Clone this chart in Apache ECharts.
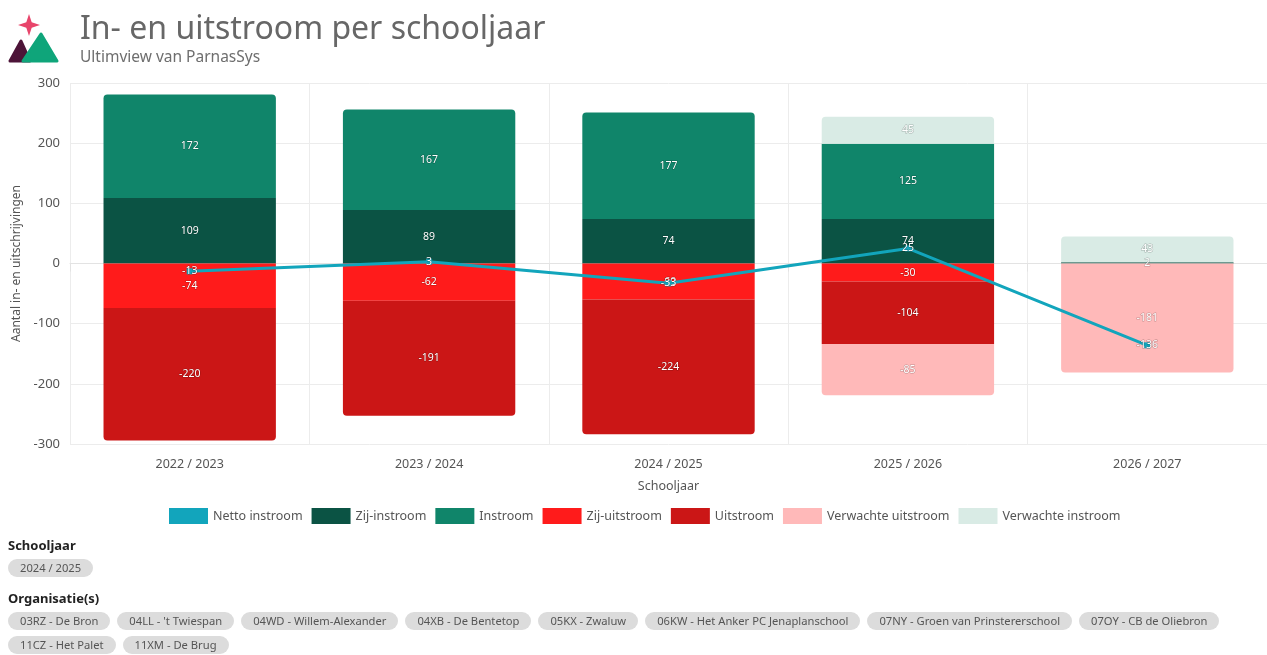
<!DOCTYPE html>
<html>
<head>
<meta charset="utf-8">
<script src="https://cdn.jsdelivr.net/npm/echarts@6/dist/echarts.min.js"></script>
<style>
  html, body { margin: 0; padding: 0; background: #fff; overflow: hidden; }
  body { width: 1267px; height: 655px; position: relative; font-family: "Noto Sans", "Open Sans", sans-serif; }
  #chart { position: absolute; left: 0; top: 0; width: 1267px; height: 655px; }
  .flabel { position: absolute; left: 8px; font-size: 13px; font-weight: bold; color: #222; }
  .pills { position: absolute; left: 8px; display: flex; flex-wrap: wrap; column-gap: 7px; row-gap: 6px; width: 1240px; }
  .pill { height: 18px; line-height: 18px; border-radius: 9px; background: #dcdcdc; color: #555; font-size: 11.2px; padding: 0 12px; white-space: nowrap; }
</style>
</head>
<body>
<div id="chart"></div>
<div class="flabel" style="top:536px">Schooljaar</div>
<div class="pills" id="yearPills" style="top:559px"></div>
<div class="flabel" style="top:589px">Organisatie(s)</div>
<div class="pills" id="orgPills" style="top:612px"></div>
<script>
const categories = ['2022 / 2023', '2023 / 2024', '2024 / 2025', '2025 / 2026', '2026 / 2027'];
const netto = [-13, 3, -33, 25, -136];
const zijInstroom = [109, 89, 74, 74, 2];
const instroom = [172, 167, 177, 125, null];
const verwachteInstroom = [null, null, null, 45, 43];
const zijUitstroom = [-74, -62, -60, -30, null];
const uitstroom = [-220, -191, -224, -104, null];
const verwachteUitstroom = [null, null, null, -85, -181];
const yTicks = [-300, -200, -100, 0, 100, 200, 300];
const yearFilter = ['2024 / 2025'];
const organisaties = ['03RZ - De Bron', "04LL - 't Twiespan", '04WD - Willem-Alexander', '04XB - De Bentetop', '05KX - Zwaluw', '06KW - Het Anker PC Jenaplanschool', '07NY - Groen van Prinstererschool', '07OY - CB de Oliebron', '11CZ - Het Palet', '11XM - De Brug'];

yearFilter.forEach(t => { const d = document.createElement('div'); d.className = 'pill'; d.textContent = t; document.getElementById('yearPills').appendChild(d); });
organisaties.forEach(t => { const d = document.createElement('div'); d.className = 'pill'; d.textContent = t; document.getElementById('orgPills').appendChild(d); });

const FONT = '"Noto Sans", "Open Sans", sans-serif';
const colors = {
  netto: '#12a5bc', zijIn: '#0b5344', inst: '#10856a', verwIn: '#d9ebe5',
  zijUit: '#ff1b1b', uit: '#cb1616', verwUit: '#ffb9b9'
};

function withRadius(arrs, positive) {
  const res = arrs.map(() => []);
  for (let i = 0; i < categories.length; i++) {
    let last = -1;
    for (let s = 0; s < arrs.length; s++) if (arrs[s][i] != null && arrs[s][i] !== 0) last = s;
    for (let s = 0; s < arrs.length; s++) {
      const v = arrs[s][i];
      if (v == null) { res[s].push(null); continue; }
      res[s].push({ value: v, itemStyle: { borderRadius: s === last ? (positive ? [4, 4, 0, 0] : [0, 0, 4, 4]) : 0 } });
    }
  }
  return res;
}
const pos = withRadius([zijInstroom, instroom, verwachteInstroom], true);
const neg = withRadius([zijUitstroom, uitstroom, verwachteUitstroom], false);

const barLabel = {
  show: true, position: 'inside', color: '#fff', fontSize: 10.5, fontFamily: FONT,
  textBorderColor: 'rgba(0,0,0,0.25)', textBorderWidth: 1
};
function bar(name, data, color) {
  return { name, type: 'bar', stack: 'total', data, barWidth: '72%', itemStyle: { color }, label: barLabel, z: 2 };
}

const chart = echarts.init(document.getElementById('chart'), null, { renderer: 'canvas' });
chart.setOption({
  animation: false,
  textStyle: { fontFamily: FONT },
  title: {
    left: 75, top: 9, itemGap: 4,
    text: 'In- en uitstroom per schooljaar',
    subtext: 'Ultimview van ParnasSys',
    textStyle: { fontSize: 32, fontWeight: 'normal', color: '#676767', fontFamily: FONT },
    subtextStyle: { fontSize: 15.5, color: '#6e6e6e', fontFamily: FONT }
  },
  graphic: [
    { type: 'polygon', shape: { points: [[29, 14], [31.7, 22.3], [40, 25], [31.7, 27.7], [29, 36], [26.3, 27.7], [18, 25], [26.3, 22.3]] }, style: { fill: '#e8456b' } },
    { type: 'polygon', shape: { points: [[10, 61], [21, 41], [30, 61]] }, style: { fill: '#4d1438', stroke: '#4d1438', lineWidth: 3, lineJoin: 'round' } },
    { type: 'polygon', shape: { points: [[23, 61], [41, 34], [57, 61]] }, style: { fill: '#0fa57a', stroke: '#0fa57a', lineWidth: 3, lineJoin: 'round' } }
  ],
  legend: {
    top: 503, left: 164, icon: 'rect', itemWidth: 39, itemHeight: 16, itemGap: 9,
    textStyle: { fontSize: 12.5, color: '#555', fontFamily: FONT },
    data: ['Netto instroom', 'Zij-instroom', 'Instroom', 'Zij-uitstroom', 'Uitstroom', 'Verwachte uitstroom', 'Verwachte instroom']
  },
  grid: { left: 70, right: -10, top: 83, bottom: 211, containLabel: false },
  xAxis: {
    type: 'category', data: categories,
    name: 'Schooljaar', nameLocation: 'middle', nameGap: 36,
    nameTextStyle: { fontSize: 12.5, color: '#555' },
    axisLine: { lineStyle: { color: '#e3e3e3' } },
    axisTick: { show: true, length: 8, lineStyle: { color: '#e3e3e3' } },
    splitLine: { show: true, lineStyle: { color: '#ececec' } },
    axisLabel: { fontSize: 12.5, color: '#555', margin: 14 }
  },
  yAxis: {
    type: 'value', min: yTicks[0], max: yTicks[yTicks.length - 1], interval: 100,
    name: 'Aantal in- en uitschrijvingen', nameLocation: 'middle', nameGap: 44, nameRotate: 90,
    nameTextStyle: { fontSize: 12, color: '#555' },
    axisLine: { show: false }, axisTick: { show: false },
    splitLine: { lineStyle: { color: '#ececec' } },
    axisLabel: { fontSize: 13, color: '#555', margin: 10 }
  },
  series: [
    {
      name: 'Netto instroom', type: 'line', data: netto, z: 10,
      itemStyle: { color: colors.netto }, lineStyle: { width: 3, color: colors.netto },
      symbol: 'rect', symbolSize: 6, showSymbol: true,
      label: { show: true, position: 'inside', color: '#fff', fontSize: 10.5, textBorderColor: 'rgba(0,0,0,0.3)', textBorderWidth: 1 }
    },
    bar('Zij-instroom', pos[0], colors.zijIn),
    bar('Instroom', pos[1], colors.inst),
    bar('Zij-uitstroom', neg[0], colors.zijUit),
    bar('Uitstroom', neg[1], colors.uit),
    bar('Verwachte uitstroom', neg[2], colors.verwUit),
    bar('Verwachte instroom', pos[2], colors.verwIn)
  ]
});
</script>
</body>
</html>
